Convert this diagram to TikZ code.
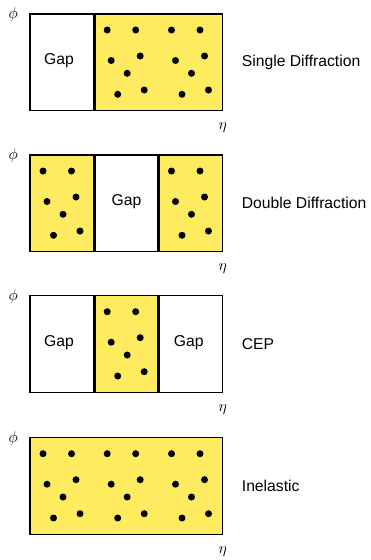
\documentclass[tikz,border=0pt]{standalone}
\usepackage{fontspec}
\setmainfont{Liberation Sans}
\definecolor{fieldyellow}{HTML}{FFEB5F}

% seven particle hits inside one eta column whose top-left corner is (#1,#2)
\newcommand{\hitblock}[2]{%
  \foreach \dx/\dy in {13/16, 41.5/16, 17/46.5, 46/42, 33/59.3, 23.5/80.3, 50/76}
    \fill[black] (#1+\dx, #2+\dy) circle[radius=3.5];%
}
% axis symbols, enlarged from the fixed-size math fonts
\newcommand{\axsym}[1]{\scalebox{1.55}{$#1$}}

\begin{document}
\begin{tikzpicture}[x=1pt, y=-1pt,
  frame/.style={draw=black, line width=1.3pt},
  divider/.style={draw=black, line width=2.8pt},
  lbl/.style={font=\fontsize{15.7}{18}\selectfont, inner sep=0pt},
  axis/.style={font=\normalsize, inner sep=0pt}]

\useasboundingbox (0,0) rectangle (370,560);

% column edges (eta bins)
\def\xa{30}
\def\xb{94.2}
\def\xc{158.5}
\def\xd{222.7}
\def\h{96.7}

% ---------- Single Diffraction ----------
\def\T{14}
\fill[white] (\xa,\T) rectangle (\xb,\T+\h);
\fill[fieldyellow] (\xb,\T) rectangle (\xd,\T+\h);
\hitblock{\xb}{\T}
\hitblock{\xc}{\T}
\draw[frame] (\xa,\T) rectangle (\xd,\T+\h);
\draw[divider] (\xb,\T) -- (\xb,\T+\h);
\node[lbl] (gapA) at (59,\T+47) {Gap};
\node[lbl, anchor=west] (labA) at (241.7,\T+48.3) {Single Diffraction};
\node[axis] (phiA) at (13.3,\T+0.5) {\axsym{\phi}};
\node[axis] (etaA) at (222.7,\T+113.7) {\axsym{\eta}};

% ---------- Double Diffraction ----------
\def\T{155}
\fill[fieldyellow] (\xa,\T) rectangle (\xb,\T+\h);
\fill[white] (\xb,\T) rectangle (\xc,\T+\h);
\fill[fieldyellow] (\xc,\T) rectangle (\xd,\T+\h);
\hitblock{\xa}{\T}
\hitblock{\xc}{\T}
\draw[frame] (\xa,\T) rectangle (\xd,\T+\h);
\draw[divider] (\xb,\T) -- (\xb,\T+\h);
\draw[divider] (\xc,\T) -- (\xc,\T+\h);
\node[lbl] (gapB) at (126.4,\T+47) {Gap};
\node[lbl, anchor=west] (labB) at (241.7,\T+48.3) {Double Diffraction};
\node[axis] (phiB) at (13.3,\T+0.5) {\axsym{\phi}};
\node[axis] (etaB) at (222.7,\T+113.7) {\axsym{\eta}};

% ---------- CEP ----------
\def\T{295.7}
\fill[white] (\xa,\T) rectangle (\xb,\T+\h);
\fill[fieldyellow] (\xb,\T) rectangle (\xc,\T+\h);
\fill[white] (\xc,\T) rectangle (\xd,\T+\h);
\hitblock{\xb}{\T}
\draw[frame] (\xa,\T) rectangle (\xd,\T+\h);
\draw[divider] (\xb,\T) -- (\xb,\T+\h);
\draw[divider] (\xc,\T) -- (\xc,\T+\h);
\node[lbl] (gapC) at (59,\T+47) {Gap};
\node[lbl] (gapD) at (188.7,\T+47) {Gap};
\node[lbl, anchor=west] (labC) at (241.7,\T+48.3) {CEP};
\node[axis] (phiC) at (13.3,\T+0.5) {\axsym{\phi}};
\node[axis] (etaC) at (222.7,\T+113.7) {\axsym{\eta}};

% ---------- Inelastic ----------
\def\T{437.7}
\fill[fieldyellow] (\xa,\T) rectangle (\xd,\T+\h);
\hitblock{\xa}{\T}
\hitblock{\xb}{\T}
\hitblock{\xc}{\T}
\draw[frame] (\xa,\T) rectangle (\xd,\T+\h);
\node[lbl, anchor=west] (labD) at (241.7,\T+48.3) {Inelastic};
\node[axis] (phiD) at (13.3,\T+0.5) {\axsym{\phi}};
\node[axis] (etaD) at (222.7,\T+113.7) {\axsym{\eta}};

\end{tikzpicture}
\end{document}
